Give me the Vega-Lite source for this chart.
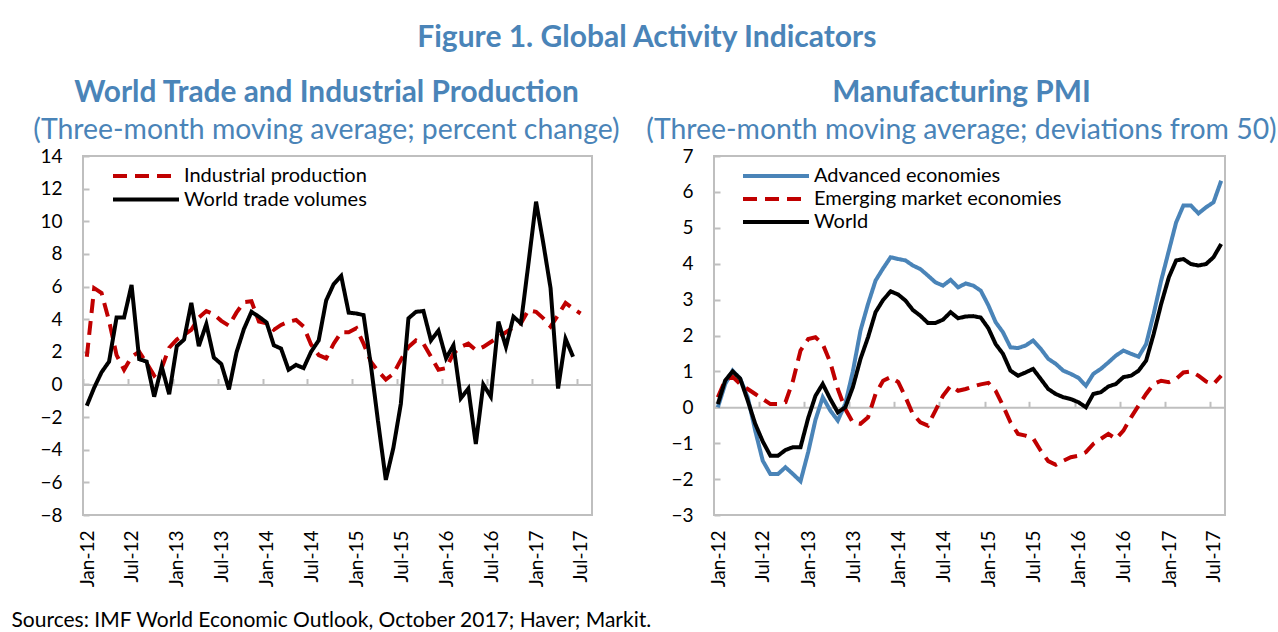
{
  "$schema": "https://vega.github.io/schema/vega-lite/v6.json",
  "background": "white",
  "padding": {"left": 10, "top": 22, "right": 0, "bottom": 0},
  "config": {
    "font": "Lato",
    "view": {"stroke": "#bfbfbf", "strokeWidth": 2},
    "axis": {"labelFont": "Lato", "labelFontSize": 19, "labelColor": "black", "grid": false, "domainColor": "#bfbfbf", "tickColor": "#bfbfbf", "domainWidth": 2, "tickWidth": 2},
    "legend": {"orient": "none", "title": null, "symbolType": "M-3,0H3", "symbolSize": 484, "symbolStrokeWidth": 4, "labelFont": "Lato", "labelFontSize": 20, "labelColor": "black", "labelOffset": 25, "labelLimit": 0, "padding": 0}
  },
  "title": {"text": "Figure 1. Global Activity Indicators", "fontSize": 30, "fontWeight": "bold", "color": "#4a84b8", "anchor": "middle", "offset": 24, "dx": 3},
  "bounds": "flush",
  "spacing": 122,
  "resolve": {"scale": {"color": "independent", "strokeDash": "independent"}, "legend": {"color": "independent", "strokeDash": "independent"}},
  "hconcat": [
    {
      "width": 509,
      "height": 359,
      "title": {"text": "World Trade and Industrial Production", "subtitle": "(Three-month moving average; percent change)", "fontSize": 29.8, "fontWeight": "bold", "color": "#4a84b8", "subtitleColor": "#4a84b8", "subtitleFontSize": 28.4, "subtitleFontWeight": "normal", "subtitleFont": "Lato", "subtitlePadding": 9, "offset": 3, "anchor": "middle", "frame": "group", "dx": -11},
      "data": {
        "format": {"parse": {"month": "date:'%Y-%m'"}},
        "values": [
          {"month": "2012-01", "Industrial production": 1.7, "World trade volumes": -1.3},
          {"month": "2012-02", "Industrial production": 5.9, "World trade volumes": -0.2},
          {"month": "2012-03", "Industrial production": 5.6, "World trade volumes": 0.75},
          {"month": "2012-04", "Industrial production": 3.9, "World trade volumes": 1.4},
          {"month": "2012-05", "Industrial production": 1.8, "World trade volumes": 4.1},
          {"month": "2012-06", "Industrial production": 0.9, "World trade volumes": 4.1},
          {"month": "2012-07", "Industrial production": 1.7, "World trade volumes": 6.1},
          {"month": "2012-08", "Industrial production": 2.0, "World trade volumes": 1.55},
          {"month": "2012-09", "Industrial production": 1.3, "World trade volumes": 1.4},
          {"month": "2012-10", "Industrial production": 0.55, "World trade volumes": -0.75},
          {"month": "2012-11", "Industrial production": 1.0, "World trade volumes": 1.1},
          {"month": "2012-12", "Industrial production": 2.25, "World trade volumes": -0.6},
          {"month": "2013-01", "Industrial production": 2.75, "World trade volumes": 2.35},
          {"month": "2013-02", "Industrial production": 3.05, "World trade volumes": 2.75},
          {"month": "2013-03", "Industrial production": 3.35, "World trade volumes": 5.0},
          {"month": "2013-04", "Industrial production": 4.1, "World trade volumes": 2.35},
          {"month": "2013-05", "Industrial production": 4.5, "World trade volumes": 3.7},
          {"month": "2013-06", "Industrial production": 4.3, "World trade volumes": 1.65},
          {"month": "2013-07", "Industrial production": 3.9, "World trade volumes": 1.25},
          {"month": "2013-08", "Industrial production": 3.6, "World trade volumes": -0.3},
          {"month": "2013-09", "Industrial production": 4.4, "World trade volumes": 1.95},
          {"month": "2013-10", "Industrial production": 5.05, "World trade volumes": 3.4},
          {"month": "2013-11", "Industrial production": 5.1, "World trade volumes": 4.45},
          {"month": "2013-12", "Industrial production": 3.85, "World trade volumes": 4.15},
          {"month": "2014-01", "Industrial production": 3.75, "World trade volumes": 3.8},
          {"month": "2014-02", "Industrial production": 3.35, "World trade volumes": 2.4},
          {"month": "2014-03", "Industrial production": 3.65, "World trade volumes": 2.2},
          {"month": "2014-04", "Industrial production": 3.85, "World trade volumes": 0.9},
          {"month": "2014-05", "Industrial production": 3.95, "World trade volumes": 1.2},
          {"month": "2014-06", "Industrial production": 3.55, "World trade volumes": 1.0},
          {"month": "2014-07", "Industrial production": 2.45, "World trade volumes": 2.0},
          {"month": "2014-08", "Industrial production": 1.8, "World trade volumes": 2.7},
          {"month": "2014-09", "Industrial production": 1.6, "World trade volumes": 5.15},
          {"month": "2014-10", "Industrial production": 2.5, "World trade volumes": 6.15},
          {"month": "2014-11", "Industrial production": 3.2, "World trade volumes": 6.65},
          {"month": "2014-12", "Industrial production": 3.2, "World trade volumes": 4.4},
          {"month": "2015-01", "Industrial production": 3.45, "World trade volumes": 4.35},
          {"month": "2015-02", "Industrial production": 2.5, "World trade volumes": 4.25},
          {"month": "2015-03", "Industrial production": 1.4, "World trade volumes": 1.2},
          {"month": "2015-04", "Industrial production": 0.8, "World trade volumes": -2.4},
          {"month": "2015-05", "Industrial production": 0.3, "World trade volumes": -5.85},
          {"month": "2015-06", "Industrial production": 0.65, "World trade volumes": -3.9},
          {"month": "2015-07", "Industrial production": 1.5, "World trade volumes": -1.2},
          {"month": "2015-08", "Industrial production": 2.3, "World trade volumes": 4.05},
          {"month": "2015-09", "Industrial production": 2.7, "World trade volumes": 4.45},
          {"month": "2015-10", "Industrial production": 2.5, "World trade volumes": 4.5},
          {"month": "2015-11", "Industrial production": 1.7, "World trade volumes": 2.7},
          {"month": "2015-12", "Industrial production": 0.9, "World trade volumes": 3.3},
          {"month": "2016-01", "Industrial production": 1.0, "World trade volumes": 1.6},
          {"month": "2016-02", "Industrial production": 1.9, "World trade volumes": 2.4},
          {"month": "2016-03", "Industrial production": 2.3, "World trade volumes": -0.85},
          {"month": "2016-04", "Industrial production": 2.5, "World trade volumes": -0.25},
          {"month": "2016-05", "Industrial production": 2.1, "World trade volumes": -3.65},
          {"month": "2016-06", "Industrial production": 2.3, "World trade volumes": 0.0},
          {"month": "2016-07", "Industrial production": 2.6, "World trade volumes": -0.75},
          {"month": "2016-08", "Industrial production": 2.9, "World trade volumes": 3.85},
          {"month": "2016-09", "Industrial production": 3.2, "World trade volumes": 2.3},
          {"month": "2016-10", "Industrial production": 3.5, "World trade volumes": 4.15},
          {"month": "2016-11", "Industrial production": 3.75, "World trade volumes": 3.75},
          {"month": "2016-12", "Industrial production": 4.55, "World trade volumes": 7.4},
          {"month": "2017-01", "Industrial production": 4.45, "World trade volumes": 11.2},
          {"month": "2017-02", "Industrial production": 4.05, "World trade volumes": 8.65},
          {"month": "2017-03", "Industrial production": 3.55, "World trade volumes": 5.9},
          {"month": "2017-04", "Industrial production": 4.25, "World trade volumes": -0.25},
          {"month": "2017-05", "Industrial production": 5.0, "World trade volumes": 2.8},
          {"month": "2017-06", "Industrial production": 4.65, "World trade volumes": 1.7},
          {"month": "2017-07", "Industrial production": 4.35, "World trade volumes": null}
        ]
      },
      "transform": [{"fold": ["Industrial production", "World trade volumes"], "as": ["series", "value"]}],
      "encoding": {
        "y": {"field": "value", "type": "quantitative", "scale": {"domain": [-8, 14], "nice": false, "zero": false},
              "axis": {"title": null, "values": [-8, -6, -4, -2, 0, 2, 4, 6, 8, 10, 12, 14], "domain": false, "tickSize": -6, "labelPadding": 27, "labelFlush": false}},
        "color": {"field": "series", "type": "nominal", "scale": {"domain": ["Industrial production", "World trade volumes"], "range": ["#c00000", "#000000"]},
                  "legend": {"legendX": 50, "legendY": 7, "rowPadding": 0.5}},
        "strokeDash": {"field": "series", "type": "nominal", "scale": {"domain": ["Industrial production", "World trade volumes"], "range": [[14, 8], [1, 0]]},
                  "legend": {"legendX": 50, "legendY": 7, "rowPadding": 0.5}}
      },
      "layer": [
        {
          "transform": [{"filter": "datum.series === 'Industrial production'"}],
          "mark": {"type": "line", "strokeWidth": 4},
          "encoding": {
            "x": {"field": "month", "type": "temporal", "timeUnit": "yearmonth", "bandPosition": 0.5,
                  "scale": {"domain": [{"year": 2012, "month": 1, "date": 1}, {"year": 2017, "month": 9, "date": 1}], "nice": false},
                  "axis": {"orient": "bottom", "format": "%b-%y", "labelAngle": 270, "labelPadding": 15, "labelOffset": 4, "ticks": false, "domain": false, "labelFlush": false, "labelOverlap": false,
                           "values": [{"year": 2012, "month": 1}, {"year": 2012, "month": 7}, {"year": 2013, "month": 1}, {"year": 2013, "month": 7}, {"year": 2014, "month": 1}, {"year": 2014, "month": 7}, {"year": 2015, "month": 1}, {"year": 2015, "month": 7}, {"year": 2016, "month": 1}, {"year": 2016, "month": 7}, {"year": 2017, "month": 1}, {"year": 2017, "month": 7}],
                           "title": "Sources: IMF World Economic Outlook, October 2017; Haver; Markit.", "titleX": -72, "titleY": 111, "titleAlign": "left", "titleBaseline": "alphabetic", "titleFontSize": 21, "titleFontWeight": "normal", "titleColor": "black", "titleFont": "Lato"}}
          }
        },
        {
          "transform": [{"filter": "datum.series === 'World trade volumes'"}],
          "mark": {"type": "line", "strokeWidth": 4},
          "encoding": {
            "x": {"field": "month", "type": "temporal", "timeUnit": "yearmonth", "bandPosition": 0.5,
                  "scale": {"domain": [{"year": 2012, "month": 1, "date": 1}, {"year": 2017, "month": 9, "date": 1}], "nice": false},
                  "axis": {"orient": "top", "offset": -228.5, "labels": false, "ticks": true, "tickSize": 6, "domain": true, "title": null,
                           "values": [{"year": 2012, "month": 1}, {"year": 2012, "month": 7}, {"year": 2013, "month": 1}, {"year": 2013, "month": 7}, {"year": 2014, "month": 1}, {"year": 2014, "month": 7}, {"year": 2015, "month": 1}, {"year": 2015, "month": 7}, {"year": 2016, "month": 1}, {"year": 2016, "month": 7}, {"year": 2017, "month": 1}, {"year": 2017, "month": 7}]}}
          }
        }
      ],
      "resolve": {"axis": {"x": "independent"}}
    },
    {
      "width": 511,
      "height": 359,
      "title": {"text": "Manufacturing PMI", "subtitle": "(Three-month moving average; deviations from 50)", "fontSize": 29.8, "fontWeight": "bold", "color": "#4a84b8", "subtitleColor": "#4a84b8", "subtitleFontSize": 28.4, "subtitleFontWeight": "normal", "subtitleFont": "Lato", "subtitlePadding": 9, "offset": 3, "anchor": "middle", "frame": "group", "dx": -8},
      "data": {
        "format": {"parse": {"month": "date:'%Y-%m'"}},
        "values": [
          {"month": "2012-01", "Advanced economies": 0.0, "Emerging market economies": 0.28, "World": 0.09},
          {"month": "2012-02", "Advanced economies": 0.65, "Emerging market economies": 0.75, "World": 0.75},
          {"month": "2012-03", "Advanced economies": 1.02, "Emerging market economies": 0.85, "World": 1.0},
          {"month": "2012-04", "Advanced economies": 0.8, "Emerging market economies": 0.65, "World": 0.8},
          {"month": "2012-05", "Advanced economies": 0.28, "Emerging market economies": 0.51, "World": 0.19},
          {"month": "2012-06", "Advanced economies": -0.65, "Emerging market economies": 0.37, "World": -0.46},
          {"month": "2012-07", "Advanced economies": -1.49, "Emerging market economies": 0.23, "World": -0.95},
          {"month": "2012-08", "Advanced economies": -1.86, "Emerging market economies": 0.09, "World": -1.35},
          {"month": "2012-09", "Advanced economies": -1.86, "Emerging market economies": 0.09, "World": -1.35},
          {"month": "2012-10", "Advanced economies": -1.67, "Emerging market economies": 0.14, "World": -1.19},
          {"month": "2012-11", "Advanced economies": -1.86, "Emerging market economies": 0.74, "World": -1.11},
          {"month": "2012-12", "Advanced economies": -2.06, "Emerging market economies": 1.58, "World": -1.11},
          {"month": "2013-01", "Advanced economies": -1.25, "Emerging market economies": 1.9, "World": -0.3},
          {"month": "2013-02", "Advanced economies": -0.35, "Emerging market economies": 1.95, "World": 0.32},
          {"month": "2013-03", "Advanced economies": 0.28, "Emerging market economies": 1.76, "World": 0.65},
          {"month": "2013-04", "Advanced economies": -0.09, "Emerging market economies": 1.25, "World": 0.23},
          {"month": "2013-05", "Advanced economies": -0.37, "Emerging market economies": 0.51, "World": -0.14},
          {"month": "2013-06", "Advanced economies": 0.1, "Emerging market economies": -0.05, "World": 0.0},
          {"month": "2013-07", "Advanced economies": 1.0, "Emerging market economies": -0.42, "World": 0.56},
          {"month": "2013-08", "Advanced economies": 2.14, "Emerging market economies": -0.46, "World": 1.35},
          {"month": "2013-09", "Advanced economies": 2.88, "Emerging market economies": -0.28, "World": 1.95},
          {"month": "2013-10", "Advanced economies": 3.53, "Emerging market economies": 0.37, "World": 2.65},
          {"month": "2013-11", "Advanced economies": 3.87, "Emerging market economies": 0.74, "World": 2.99},
          {"month": "2013-12", "Advanced economies": 4.18, "Emerging market economies": 0.84, "World": 3.23},
          {"month": "2014-01", "Advanced economies": 4.13, "Emerging market economies": 0.7, "World": 3.14},
          {"month": "2014-02", "Advanced economies": 4.09, "Emerging market economies": 0.28, "World": 2.97},
          {"month": "2014-03", "Advanced economies": 3.95, "Emerging market economies": -0.19, "World": 2.71},
          {"month": "2014-04", "Advanced economies": 3.85, "Emerging market economies": -0.42, "World": 2.55},
          {"month": "2014-05", "Advanced economies": 3.67, "Emerging market economies": -0.51, "World": 2.35},
          {"month": "2014-06", "Advanced economies": 3.48, "Emerging market economies": -0.09, "World": 2.35},
          {"month": "2014-07", "Advanced economies": 3.39, "Emerging market economies": 0.32, "World": 2.44},
          {"month": "2014-08", "Advanced economies": 3.55, "Emerging market economies": 0.6, "World": 2.65},
          {"month": "2014-09", "Advanced economies": 3.34, "Emerging market economies": 0.46, "World": 2.48},
          {"month": "2014-10", "Advanced economies": 3.45, "Emerging market economies": 0.51, "World": 2.53},
          {"month": "2014-11", "Advanced economies": 3.39, "Emerging market economies": 0.58, "World": 2.54},
          {"month": "2014-12", "Advanced economies": 3.25, "Emerging market economies": 0.64, "World": 2.5},
          {"month": "2015-01", "Advanced economies": 2.84, "Emerging market economies": 0.68, "World": 2.2},
          {"month": "2015-02", "Advanced economies": 2.37, "Emerging market economies": 0.46, "World": 1.76},
          {"month": "2015-03", "Advanced economies": 2.09, "Emerging market economies": 0.05, "World": 1.49},
          {"month": "2015-04", "Advanced economies": 1.67, "Emerging market economies": -0.42, "World": 1.02},
          {"month": "2015-05", "Advanced economies": 1.65, "Emerging market economies": -0.74, "World": 0.88},
          {"month": "2015-06", "Advanced economies": 1.72, "Emerging market economies": -0.79, "World": 0.97},
          {"month": "2015-07", "Advanced economies": 1.86, "Emerging market economies": -0.86, "World": 1.07},
          {"month": "2015-08", "Advanced economies": 1.63, "Emerging market economies": -1.21, "World": 0.79},
          {"month": "2015-09", "Advanced economies": 1.35, "Emerging market economies": -1.5, "World": 0.51},
          {"month": "2015-10", "Advanced economies": 1.21, "Emerging market economies": -1.6, "World": 0.37},
          {"month": "2015-11", "Advanced economies": 1.02, "Emerging market economies": -1.49, "World": 0.28},
          {"month": "2015-12", "Advanced economies": 0.93, "Emerging market economies": -1.39, "World": 0.23},
          {"month": "2016-01", "Advanced economies": 0.82, "Emerging market economies": -1.35, "World": 0.14},
          {"month": "2016-02", "Advanced economies": 0.6, "Emerging market economies": -1.25, "World": 0.0},
          {"month": "2016-03", "Advanced economies": 0.93, "Emerging market economies": -1.02, "World": 0.37},
          {"month": "2016-04", "Advanced economies": 1.07, "Emerging market economies": -0.88, "World": 0.42},
          {"month": "2016-05", "Advanced economies": 1.25, "Emerging market economies": -0.74, "World": 0.58},
          {"month": "2016-06", "Advanced economies": 1.44, "Emerging market economies": -0.88, "World": 0.65},
          {"month": "2016-07", "Advanced economies": 1.58, "Emerging market economies": -0.65, "World": 0.84},
          {"month": "2016-08", "Advanced economies": 1.49, "Emerging market economies": -0.28, "World": 0.88},
          {"month": "2016-09", "Advanced economies": 1.41, "Emerging market economies": 0.05, "World": 1.02},
          {"month": "2016-10", "Advanced economies": 1.76, "Emerging market economies": 0.37, "World": 1.3},
          {"month": "2016-11", "Advanced economies": 2.6, "Emerging market economies": 0.65, "World": 2.04},
          {"month": "2016-12", "Advanced economies": 3.53, "Emerging market economies": 0.74, "World": 2.88},
          {"month": "2017-01", "Advanced economies": 4.36, "Emerging market economies": 0.7, "World": 3.62},
          {"month": "2017-02", "Advanced economies": 5.15, "Emerging market economies": 0.79, "World": 4.09},
          {"month": "2017-03", "Advanced economies": 5.62, "Emerging market economies": 0.97, "World": 4.13},
          {"month": "2017-04", "Advanced economies": 5.62, "Emerging market economies": 1.0, "World": 3.99},
          {"month": "2017-05", "Advanced economies": 5.4, "Emerging market economies": 0.88, "World": 3.95},
          {"month": "2017-06", "Advanced economies": 5.57, "Emerging market economies": 0.72, "World": 3.99},
          {"month": "2017-07", "Advanced economies": 5.71, "Emerging market economies": 0.65, "World": 4.18},
          {"month": "2017-08", "Advanced economies": 6.31, "Emerging market economies": 0.88, "World": 4.55}
        ]
      },
      "transform": [{"fold": ["Advanced economies", "Emerging market economies", "World"], "as": ["series", "value"]}],
      "encoding": {
        "y": {"field": "value", "type": "quantitative", "scale": {"domain": [-3, 7], "nice": false, "zero": false},
              "axis": {"title": null, "values": [-3, -2, -1, 0, 1, 2, 3, 4, 5, 6, 7], "domain": false, "tickSize": -6, "labelPadding": 27, "labelFlush": false}},
        "color": {"field": "series", "type": "nominal", "scale": {"domain": ["Advanced economies", "Emerging market economies", "World"], "range": ["#4a84b8", "#c00000", "#000000"]},
                  "legend": {"legendX": 49, "legendY": 7, "rowPadding": -1.5}},
        "strokeDash": {"field": "series", "type": "nominal", "scale": {"domain": ["Advanced economies", "Emerging market economies", "World"], "range": [[1, 0], [14, 8], [1, 0]]},
                  "legend": {"legendX": 49, "legendY": 7, "rowPadding": -1.5}}
      },
      "layer": [
        {
          "transform": [{"filter": "datum.series !== 'World'"}],
          "mark": {"type": "line", "strokeWidth": 4},
          "encoding": {
            "x": {"field": "month", "type": "temporal", "timeUnit": "yearmonth", "bandPosition": 0.5,
                  "scale": {"domain": [{"year": 2012, "month": 1, "date": 1}, {"year": 2017, "month": 9, "date": 1}], "nice": false},
                  "axis": {"orient": "bottom", "format": "%b-%y", "labelAngle": 270, "labelPadding": 15, "labelOffset": 4, "ticks": false, "domain": false, "labelFlush": false, "labelOverlap": false, "title": null,
                           "values": [{"year": 2012, "month": 1}, {"year": 2012, "month": 7}, {"year": 2013, "month": 1}, {"year": 2013, "month": 7}, {"year": 2014, "month": 1}, {"year": 2014, "month": 7}, {"year": 2015, "month": 1}, {"year": 2015, "month": 7}, {"year": 2016, "month": 1}, {"year": 2016, "month": 7}, {"year": 2017, "month": 1}, {"year": 2017, "month": 7}]}}
          }
        },
        {
          "transform": [{"filter": "datum.series === 'World'"}],
          "mark": {"type": "line", "strokeWidth": 4},
          "encoding": {
            "x": {"field": "month", "type": "temporal", "timeUnit": "yearmonth", "bandPosition": 0.5,
                  "scale": {"domain": [{"year": 2012, "month": 1, "date": 1}, {"year": 2017, "month": 9, "date": 1}], "nice": false},
                  "axis": {"orient": "top", "offset": -251.3, "labels": false, "ticks": true, "tickSize": 6, "domain": true, "title": null,
                           "values": [{"year": 2012, "month": 1}, {"year": 2012, "month": 7}, {"year": 2013, "month": 1}, {"year": 2013, "month": 7}, {"year": 2014, "month": 1}, {"year": 2014, "month": 7}, {"year": 2015, "month": 1}, {"year": 2015, "month": 7}, {"year": 2016, "month": 1}, {"year": 2016, "month": 7}, {"year": 2017, "month": 1}, {"year": 2017, "month": 7}]}}
          }
        }
      ],
      "resolve": {"axis": {"x": "independent"}}
    }
  ]
}
